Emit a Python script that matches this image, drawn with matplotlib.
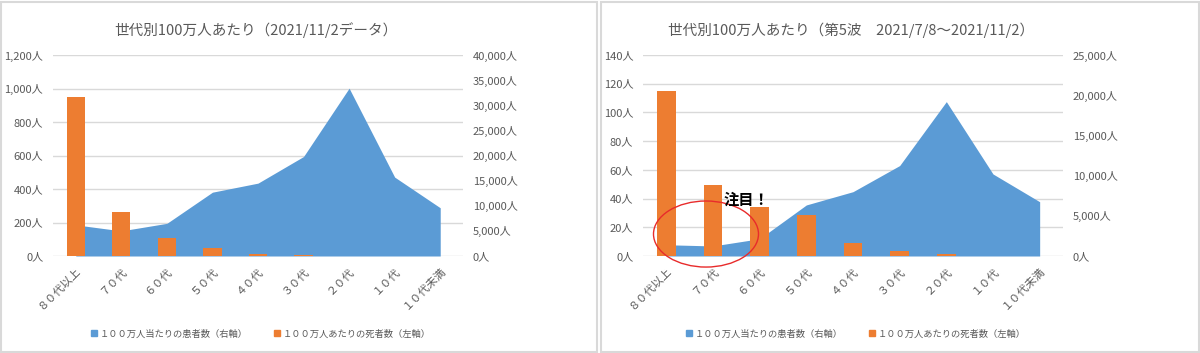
import matplotlib
matplotlib.use("Agg")
import matplotlib.pyplot as plt
from matplotlib.patches import Ellipse, Rectangle
from matplotlib.lines import Line2D
from matplotlib.ticker import FuncFormatter, MultipleLocator
from matplotlib.transforms import blended_transform_factory

plt.rcParams['font.family'] = ['Noto Sans CJK JP', 'DejaVu Sans']

# ---- data ----
categories = ['８０代以上', '７０代', '６０代', '５０代', '４０代', '３０代', '２０代', '１０代', '１０代未満']

# left chart (2021/11/2 data)
cases_total = [6200, 5000, 6500, 12700, 14500, 19800, 33400, 15700, 9600]      # right axis
deaths_total = [951, 264, 105, 50, 14, 3, 2, 1, 0]                               # left axis

# right chart (5th wave 2021/7/8-2021/11/2)
cases_wave5 = [1400, 1250, 2150, 6350, 8000, 11250, 19200, 10200, 6750]          # right axis
deaths_wave5 = [115, 49.5, 34, 28.6, 8.8, 3.5, 1.4, 0.3, 0]                     # left axis

titles = ['世代別100万人あたり（2021/11/2データ）',
          '世代別100万人あたり（第5波\u30002021/7/8～2021/11/2）']
legend_labels = ['１００万人当たりの患者数（右軸）', '１００万人あたりの死者数（左軸）']

BLUE = '#5B9BD5'
ORANGE = '#ED7D31'
GRAY = '#595959'
GRID = '#D9D9D9'

W, H = 1200, 353
fig = plt.figure(figsize=(W / 100, H / 100), dpi=100)

def fx(px):
    return px / W

def fy(py):
    return 1 - py / H

fmt = FuncFormatter(lambda v, p: f'{int(round(v)):,}人')

def make_panel(left_px, right_px, cases, deaths, lmax, lstep, rmax, rstep, title, panel_l, panel_r):
    # panel border
    fig.add_artist(Rectangle((fx(panel_l), fy(352)), fx(panel_r - panel_l), (351 - 1) / H,
                             transform=fig.transFigure, fill=False, edgecolor='#D9D9D9', lw=1.5))
    top_px, bot_px = 55, 256
    rect = [fx(left_px), fy(bot_px), fx(right_px - left_px), (bot_px - top_px) / H]
    ax = fig.add_axes(rect)
    ax2 = ax.twinx()
    ax.set_zorder(ax2.get_zorder() + 1)
    ax.patch.set_visible(False)
    x = list(range(len(categories)))
    # area (right axis)
    ax2.fill_between(x, 0, cases, color=BLUE, lw=0, zorder=2)
    ax2.set_ylim(0, rmax)
    ax2.yaxis.set_major_locator(MultipleLocator(rstep))
    ax2.yaxis.set_major_formatter(fmt)
    # gridlines from left axis, drawn beneath area
    tr = blended_transform_factory(ax2.transAxes, ax.transData)
    v = 0
    while v <= lmax + 1e-9:
        ax2.add_line(Line2D([0, 1], [v, v], transform=tr, color=GRID, lw=1, zorder=1))
        v += lstep
    # bars (left axis)
    ax.bar(x, deaths, width=0.4, color=ORANGE, zorder=3)
    ax.set_ylim(0, lmax)
    ax.yaxis.set_major_locator(MultipleLocator(lstep))
    ax.yaxis.set_major_formatter(fmt)
    ax.set_xlim(-0.5, len(categories) - 0.5)
    ax2.set_xlim(-0.5, len(categories) - 0.5)
    ax.set_xticks(x)
    ax.set_xticklabels(categories, rotation=45, ha='right', va='top', rotation_mode='anchor')
    for a in (ax, ax2):
        for s in a.spines.values():
            s.set_visible(False)
        a.tick_params(length=0, labelsize=8, labelcolor=GRAY)
    ax.tick_params(axis='y', pad=7)
    ax2.tick_params(axis='y', pad=7)
    ax.tick_params(axis='x', pad=7)
    cx = (left_px + right_px) / 2
    fig.text(fx(cx - 2), fy(30), title, ha='center', va='center', fontsize=10.5, color=GRAY)
    handles = [Line2D([], [], marker='s', ls='none', color=BLUE, markersize=4.5),
               Line2D([], [], marker='s', ls='none', color=ORANGE, markersize=4.5)]
    fig.legend(handles, legend_labels, loc='center', ncol=2, frameon=False,
               bbox_to_anchor=(fx(cx + 2), fy(334)), fontsize=6.7, labelcolor=GRAY,
               handletextpad=0.1, columnspacing=2.6, handlelength=1.0)
    return ax, ax2

axL, _ = make_panel(53, 463, cases_total, deaths_total, 1200, 200, 40000, 5000, titles[0], 1, 597)
axR, _ = make_panel(643, 1063, cases_wave5, deaths_wave5, 140, 20, 25000, 5000, titles[1], 601, 1199)

# annotation on the right chart
axR.add_patch(Ellipse((0.85, 15.3), 2.25, 46, fill=False, edgecolor='#E82B2B', lw=1.0,
                      clip_on=False, zorder=5))
axR.text(1.22, 39.5, '注目！', ha='left', va='center', fontsize=11, fontweight='bold',
         color='black', zorder=6)

fig.savefig('out.png', dpi=100, facecolor='white')
